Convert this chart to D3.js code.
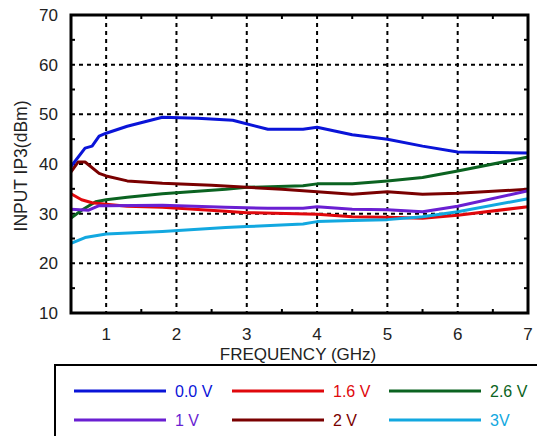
<!DOCTYPE html>
<html>
<head>
<meta charset="utf-8">
<script src="https://cdn.jsdelivr.net/npm/d3@7"></script>
<style>
  body { margin: 0; background: #fff; }
  text { font-family: "Liberation Sans", Arial, sans-serif; }
</style>
</head>
<body>
<script>
// chart values
const xTicks = [1, 2, 3, 4, 5, 6, 7];
const yTicks = [10, 20, 30, 40, 50, 60, 70];
const seriesNames = ['0.0 V', '1 V', '1.6 V', '2 V', '2.6 V', '3V'];
const seriesColors = ['#0a14d8', '#6a1fd2', '#e0080c', '#7a0000', '#0b6321', '#12a8e0'];

const v00 = [[0.5,39.5],[0.7,43.2],[0.8,43.6],[0.9,45.6],[1.0,46.2],[1.3,47.6],[1.8,49.4],[2.3,49.2],[2.8,48.8],[3.3,47.0],[3.8,47.0],[4.0,47.4],[4.5,45.9],[5.0,45.0],[5.5,43.6],[6.0,42.4],[7.0,42.2]];
const v10 = [[0.5,30.9],[0.75,30.7],[0.9,31.6],[1.0,31.6],[1.8,31.7],[2.7,31.3],[3.3,31.1],[3.8,31.1],[4.0,31.4],[4.5,30.9],[5.0,30.8],[5.5,30.4],[6.0,31.5],[7.0,34.6]];
const v16 = [[0.5,34.0],[0.65,32.8],[0.8,32.2],[1.0,31.9],[1.3,31.5],[1.8,31.3],[2.7,30.5],[3.0,30.2],[4.0,29.9],[4.5,29.4],[5.0,29.3],[5.5,29.1],[6.0,29.7],[7.0,31.4]];
const v20 = [[0.5,38.4],[0.6,40.4],[0.7,40.4],[0.9,38.1],[1.0,37.6],[1.3,36.6],[1.8,36.1],[2.5,35.7],[3.0,35.3],[3.5,34.9],[4.0,34.4],[4.5,33.9],[5.0,34.4],[5.5,33.9],[6.0,34.1],[7.0,34.9]];
const v26 = [[0.5,29.1],[0.65,30.7],[0.85,32.4],[1.0,32.8],[1.3,33.3],[1.8,34.0],[2.7,34.9],[3.0,35.3],[3.8,35.6],[4.0,36.0],[4.5,36.0],[5.0,36.6],[5.5,37.3],[6.0,38.6],[7.0,41.4]];
const v30 = [[0.5,24.0],[0.7,25.2],[1.0,25.9],[1.8,26.4],[2.7,27.2],[3.0,27.4],[3.8,27.9],[4.0,28.4],[4.5,28.6],[5.0,28.8],[5.5,29.4],[6.0,30.4],[7.0,33.0]];
const allSeries = [v00, v10, v16, v20, v26, v30];

// drawing order so the overlaps look like the original
const drawOrder = [4, 3, 2, 1, 5, 0];

const W = 537, H = 436;
const plot = { left: 71, right: 528, top: 15, bottom: 313 };

const svg = d3.select('body').append('svg')
    .attr('width', W)
    .attr('height', H);

const x = d3.scaleLinear().domain([0.5, 7]).range([plot.left, plot.right]);
const y = d3.scaleLinear().domain([10, 70]).range([plot.bottom, plot.top]);

// dashed grid
const grid = svg.append('g')
    .attr('stroke', '#000')
    .attr('stroke-width', 2)
    .attr('stroke-dasharray', '4,4');
grid.selectAll('line.vx')
    .data(xTicks.filter(d => d < 7))
    .join('line')
    .attr('x1', d => x(d)).attr('x2', d => x(d))
    .attr('y1', plot.top).attr('y2', plot.bottom);
grid.selectAll('line.hy')
    .data(yTicks.filter(d => d > 10 && d < 70))
    .join('line')
    .attr('x1', plot.left).attr('x2', plot.right)
    .attr('y1', d => y(d)).attr('y2', d => y(d));

// minor ticks inside the frame
const minorX = d3.range(1.5, 7, 1);
const minorY = d3.range(15, 70, 10);
const ticks = svg.append('g').attr('stroke', '#000').attr('stroke-width', 2);
minorX.forEach(d => {
    ticks.append('line').attr('x1', x(d)).attr('x2', x(d)).attr('y1', plot.bottom).attr('y2', plot.bottom - 4);
    ticks.append('line').attr('x1', x(d)).attr('x2', x(d)).attr('y1', plot.top).attr('y2', plot.top + 4);
});
minorY.forEach(d => {
    ticks.append('line').attr('x1', plot.left).attr('x2', plot.left + 4).attr('y1', y(d)).attr('y2', y(d));
    ticks.append('line').attr('x1', plot.right).attr('x2', plot.right - 4).attr('y1', y(d)).attr('y2', y(d));
});

// series lines
const line = d3.line().x(d => x(d[0])).y(d => y(d[1]));
svg.append('g')
    .selectAll('path')
    .data(drawOrder)
    .join('path')
    .attr('d', i => line(allSeries[i]))
    .attr('fill', 'none')
    .attr('stroke', i => seriesColors[i])
    .attr('stroke-width', 3)
    .attr('stroke-linejoin', 'round');

// frame
svg.append('rect')
    .attr('x', plot.left).attr('y', plot.top)
    .attr('width', plot.right - plot.left).attr('height', plot.bottom - plot.top)
    .attr('fill', 'none').attr('stroke', '#000').attr('stroke-width', 3);

// tick labels
svg.append('g').selectAll('text')
    .data(yTicks)
    .join('text')
    .attr('x', 58).attr('y', d => y(d))
    .attr('dy', '0.35em')
    .attr('text-anchor', 'end')
    .attr('font-size', 17)
    .attr('fill', '#222')
    .text(d => d);
svg.append('g').selectAll('text')
    .data(xTicks)
    .join('text')
    .attr('x', d => x(d)).attr('y', 334)
    .attr('dy', '0.35em')
    .attr('text-anchor', 'middle')
    .attr('font-size', 17)
    .attr('fill', '#222')
    .text(d => d);

// axis titles
svg.append('text')
    .attr('x', 298).attr('y', 360)
    .attr('text-anchor', 'middle')
    .attr('font-size', 17)
    .attr('fill', '#222')
    .text('FREQUENCY (GHz)');
svg.append('text')
    .attr('transform', 'translate(27,166) rotate(-90)')
    .attr('text-anchor', 'middle')
    .attr('font-size', 17.5)
    .attr('fill', '#222')
    .text('INPUT IP3(dBm)');

// legend
svg.append('rect')
    .attr('x', 55).attr('y', 365)
    .attr('width', 500).attr('height', 100)
    .attr('fill', 'none').attr('stroke', '#000').attr('stroke-width', 2);

const legendCols = [74, 232, 389];
const legendRows = [391, 420];
const legendLayout = [[0, 0], [0, 1], [1, 0], [1, 1], [2, 0], [2, 1]]; // [col,row] per series
const leg = svg.append('g').selectAll('g')
    .data(seriesNames.map((n, i) => ({ n, i })))
    .join('g')
    .attr('transform', d => `translate(${legendCols[legendLayout[d.i][0]]},${legendRows[legendLayout[d.i][1]]})`);
leg.append('line')
    .attr('x1', 0).attr('x2', 92)
    .attr('stroke', d => seriesColors[d.i])
    .attr('stroke-width', 3);
leg.append('text')
    .attr('x', 101).attr('dy', '0.35em')
    .attr('font-size', 16)
    .attr('fill', d => seriesColors[d.i])
    .text(d => d.n);
</script>
</body>
</html>
